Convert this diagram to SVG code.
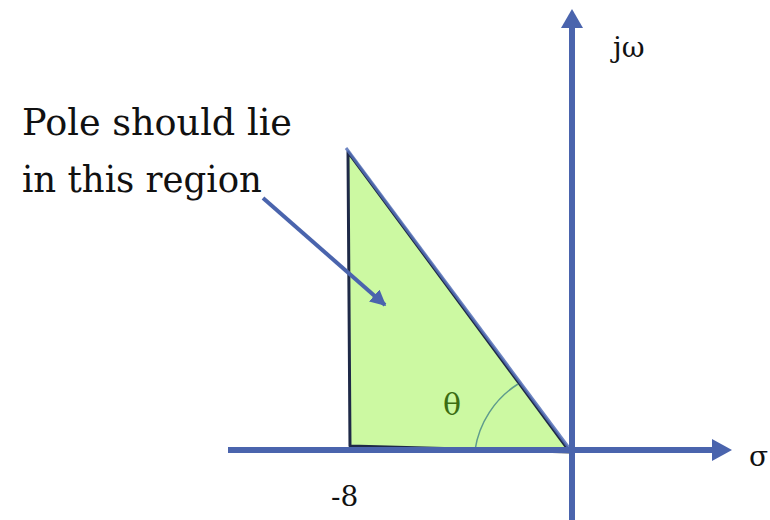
<svg xmlns="http://www.w3.org/2000/svg" width="770" height="520" viewBox="0 0 770 520">
<defs>
<style>
.ax{stroke:#4a64ad;stroke-width:6;fill:none}
text{font-family:"DejaVu Serif","Liberation Serif",serif;fill:#111}
</style>
<marker id="ah" viewBox="0 0 10 10" refX="9" refY="5" markerWidth="4" markerHeight="4" orient="auto" markerUnits="strokeWidth"><path d="M0,0 L10,5 L0,10 z" fill="#4a64ad"/></marker>
</defs>
<g id="region">
<polygon points="348,152 350,446 570,452" fill="#ccf9a2" stroke="#1e2947" stroke-width="3" stroke-linejoin="round"/>
<line x1="346" y1="148" x2="572" y2="452" stroke="#5470b8" stroke-width="3" opacity="0.85"/>
<path d="M475,450 A95,95 0 0 1 518,384" fill="none" stroke="#5f9c8c" stroke-width="1.5"/>
<text x="443" y="415" font-size="30" style="fill:#3b6d12">θ</text>
</g>
<g id="axes">
<line class="ax" x1="228" y1="450" x2="712" y2="450"/>
<polygon points="712,439 732,450 712,461" fill="#4a64ad"/>
<line class="ax" x1="572" y1="520" x2="572" y2="28"/>
<polygon points="561,28 572,9 583,28" fill="#4a64ad"/>
</g>
<g id="connectors">
<line x1="263" y1="198" x2="385" y2="305" stroke="#4a64ad" stroke-width="4" marker-end="url(#ah)"/>
</g>
<g id="labels">
<text x="22" y="135" font-size="38" textLength="270" lengthAdjust="spacingAndGlyphs">Pole should lie</text>
<text x="22" y="192" font-size="38" textLength="240" lengthAdjust="spacingAndGlyphs">in this region</text>
<text x="613" y="57" font-size="28">jω</text>
<text x="749" y="466" font-size="28">σ</text>
<text x="331" y="506" font-size="28">-8</text>
</g>
</svg>
